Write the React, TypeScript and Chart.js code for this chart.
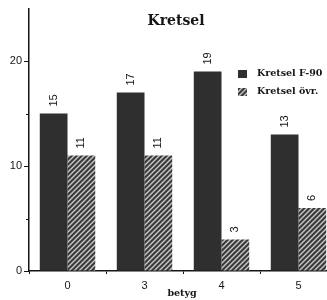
import React, { useEffect, useRef } from "react";
import { Chart, registerables } from "chart.js";

Chart.register(...registerables);

const categories = ["0", "3", "4", "5"];
const seriesF90 = [15, 17, 19, 13];
const seriesOvr = [11, 11, 3, 6];
const seriesNames = ["Kretsel F-90", "Kretsel övr."];
const titleText = "Kretsel";
const xTitleText = "betyg";
const yMajorTicks = [0, 10, 20];
const yMinorTicks = [5, 15];

const DARK = "#2f2f2f";
const HATCH_BG = "#3a3a3a";
const HATCH_LINE = "#c9c9c9";
const INK = "#151515";

function makeHatch(): CanvasPattern | string {
  const c = document.createElement("canvas");
  const s = 5;
  c.width = s;
  c.height = s;
  const g = c.getContext("2d");
  if (!g) return HATCH_BG;
  g.fillStyle = HATCH_BG;
  g.fillRect(0, 0, s, s);
  g.strokeStyle = HATCH_LINE;
  g.lineWidth = 1.4;
  g.beginPath();
  g.moveTo(-1, s + 1);
  g.lineTo(s + 1, -1);
  g.moveTo(-1, 1);
  g.lineTo(1, -1);
  g.moveTo(s - 1, s + 1);
  g.lineTo(s + 1, s - 1);
  g.stroke();
  const p = g.createPattern(c, "repeat");
  return p || HATCH_BG;
}

export default function App() {
  const ref = useRef<HTMLCanvasElement | null>(null);

  useEffect(() => {
    const canvas = ref.current;
    if (!canvas) return;
    const hatch = makeHatch();

    const decor = {
      id: "decor",
      afterDatasetsDraw(chart: any) {
        const ctx = chart.ctx;
        ctx.save();
        // value labels, rotated
        ctx.fillStyle = INK;
        ctx.font = "11px 'Liberation Sans', Arial, sans-serif";
        ctx.textAlign = "left";
        ctx.textBaseline = "middle";
        chart.data.datasets.forEach((ds: any, di: number) => {
          const meta = chart.getDatasetMeta(di);
          meta.data.forEach((el: any, i: number) => {
            ctx.save();
            ctx.translate(el.x, el.y - 7);
            ctx.rotate(-Math.PI / 2);
            ctx.fillText(String(ds.data[i]), 0, 0);
            ctx.restore();
          });
        });
        // minor y ticks
        const y = chart.scales.y;
        const left = chart.chartArea.left;
        ctx.strokeStyle = INK;
        ctx.lineWidth = 1;
        yMinorTicks.forEach((v) => {
          const py = Math.round(y.getPixelForValue(v)) + 0.5;
          ctx.beginPath();
          ctx.moveTo(left - 3, py);
          ctx.lineTo(left, py);
          ctx.stroke();
        });
        // title
        ctx.fillStyle = INK;
        ctx.font = "bold 14px 'DejaVu Serif', serif";
        ctx.textAlign = "center";
        ctx.textBaseline = "alphabetic";
        ctx.fillText(titleText, 176, 25);
        // x title
        ctx.font = "bold 9.5px 'DejaVu Serif', serif";
        ctx.textBaseline = "middle";
        ctx.fillText(xTitleText, 182, 294);
        // legend
        const fills = [DARK, hatch];
        ctx.textAlign = "left";
        ctx.font = "bold 9.5px 'DejaVu Serif', serif";
        seriesNames.forEach((name, i) => {
          const ty = 70 + i * 18;
          ctx.fillStyle = fills[i] as any;
          ctx.fillRect(238, ty, 9, 8);
          ctx.fillStyle = INK;
          ctx.fillText(name, 257, ty + 4);
        });
        ctx.restore();
      },
    };

    const chart = new Chart(canvas, {
      type: "bar",
      data: {
        labels: categories,
        datasets: [
          {
            label: seriesNames[0],
            data: seriesF90,
            backgroundColor: DARK,
            borderWidth: 0,
            categoryPercentage: 0.72,
            barPercentage: 1.0,
          },
          {
            label: seriesNames[1],
            data: seriesOvr,
            backgroundColor: hatch as any,
            borderWidth: 0,
            categoryPercentage: 0.72,
            barPercentage: 1.0,
          },
        ],
      },
      options: {
        animation: false,
        responsive: false,
        maintainAspectRatio: false,
        layout: { padding: { top: 8, right: 0, left: 0, bottom: 0 } },
        plugins: {
          legend: { display: false },
          title: { display: false },
          tooltip: { enabled: false },
        },
        scales: {
          x: {
            offset: true,
            afterFit(scale: any) {
              scale.height = 29;
            },
            border: { display: true, color: INK, width: 1.5 },
            grid: {
              display: true,
              offset: true,
              drawOnChartArea: false,
              drawTicks: true,
              tickLength: 3,
              tickColor: INK,
            },
            ticks: {
              color: INK,
              font: { family: "'Liberation Sans', Arial, sans-serif", size: 11 },
              padding: 5,
            },
          },
          y: {
            min: 0,
            max: 25,
            afterFit(scale: any) {
              scale.width = 29;
            },
            border: { display: true, color: INK, width: 1.5 },
            grid: {
              display: true,
              drawOnChartArea: false,
              drawTicks: true,
              tickLength: 5,
              tickColor: (c: any) =>
                c.tick && yMajorTicks.includes(c.tick.value) ? INK : "rgba(0,0,0,0)",
            },
            ticks: {
              stepSize: 5,
              color: INK,
              padding: 2,
              font: { family: "'Liberation Sans', Arial, sans-serif", size: 11 },
              callback: (v: any) => (yMajorTicks.includes(Number(v)) ? String(v) : ""),
            },
          },
        },
      },
      plugins: [decor],
    });

    return () => chart.destroy();
  }, []);

  return (
    <div
      style={{
        position: "absolute",
        left: 0,
        top: 0,
        width: 327,
        height: 300,
        overflow: "hidden",
        background: "#fff",
      }}
    >
      <canvas ref={ref} width={337} height={300} style={{ width: 337, height: 300, display: "block" }} />
    </div>
  );
}
